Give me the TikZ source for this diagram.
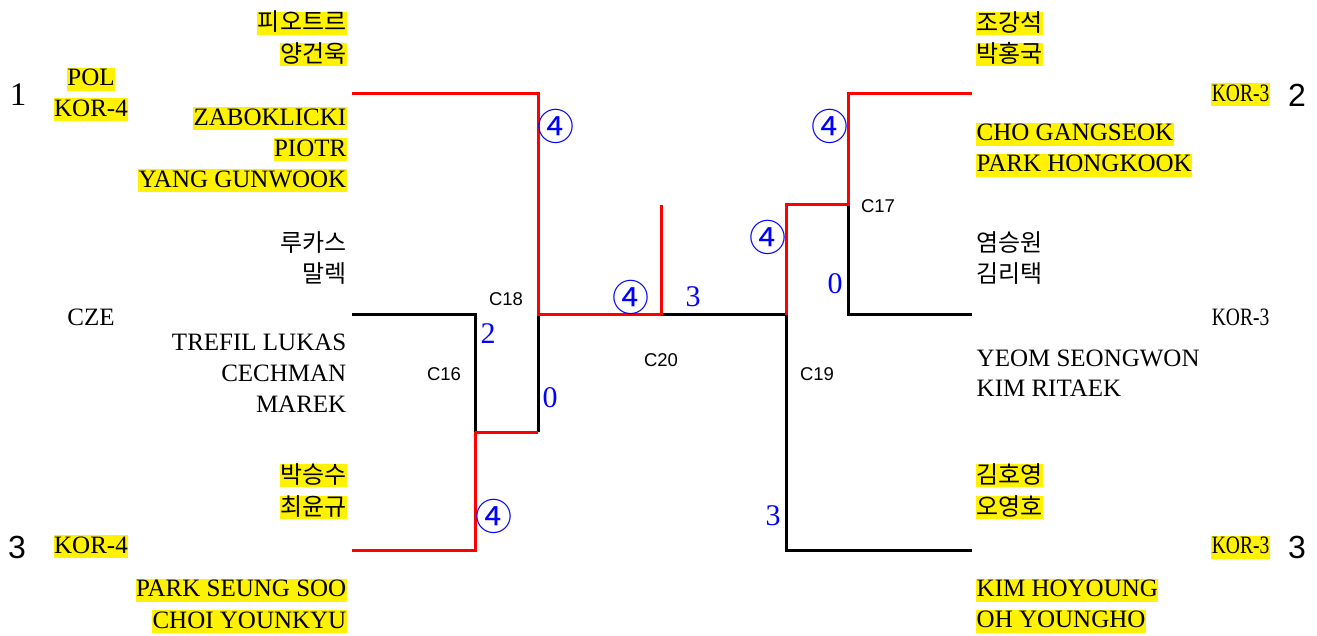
\documentclass[tikz,border=0pt]{standalone}
\usepackage{fontspec}
\usepackage{graphicx}
\setmainfont{Liberation Serif}
\newfontfamily\kr{Noto Sans CJK KR}
\newfontfamily\ssf{Liberation Sans}
\begin{document}
\begin{tikzpicture}[x=1pt,y=-1pt,
  lat/.style={inner xsep=0.5pt, inner ysep=0pt, text height=18pt, text depth=5pt, font=\fontsize{25}{30}\selectfont},
  hl/.style={lat, fill=yellow},
  kor/.style={inner xsep=0.5pt, inner ysep=0pt, text height=19pt, text depth=4pt, font=\kr\fontsize{24}{30}\selectfont},
  khl/.style={kor, fill=yellow},
  rankser/.style={inner sep=0pt, font=\fontsize{33}{36}\selectfont},
  ranksan/.style={inner sep=0pt, font=\ssf\fontsize{32}{36}\selectfont},
  score/.style={inner sep=0pt, text=blue, font=\fontsize{30}{36}\selectfont},
  win/.style={inner sep=0pt, text=blue, font=\kr\fontsize{37}{40}\selectfont},
  match/.style={inner sep=0pt, font=\ssf\fontsize{18.5}{22}\selectfont},
  wline/.style={red, line width=3pt},
  lline/.style={black, line width=3pt}
]
\useasboundingbox (0,0) rectangle (1317,636);

% bracket points
\coordinate (a1) at (352,94);
\coordinate (a2) at (538,94);
\coordinate (m18) at (538,315);
\coordinate (b1) at (352,315);
\coordinate (b2) at (475,315);
\coordinate (b3) at (475,432);
\coordinate (b4) at (538,432);
\coordinate (c1) at (352,550);
\coordinate (c2) at (475,550);
\coordinate (w) at (661,315);
\coordinate (wt) at (661,205);
\coordinate (m19) at (786,315);
\coordinate (d1) at (972,94);
\coordinate (d2) at (848,94);
\coordinate (d3) at (848,205);
\coordinate (d4) at (786,205);
\coordinate (e1) at (972,315);
\coordinate (e2) at (848,315);
\coordinate (f1) at (972,550);
\coordinate (f2) at (786,550);

% connectors
\draw[lline] (b1) -- (b2) -- (b3);
\draw[lline] (b4) -- (m18);
\draw[lline] (w) -- (m19);
\draw[lline] (e1) -- (e2) -- (d3);
\draw[lline] (f1) -- (f2) -- (m19);
\draw[wline] (a1) -- (a2) -- (m18) -- (w);
\draw[wline] (w) -- (wt);
\draw[wline] (b3) -- (b4);
\draw[wline] (c1) -- (c2) -- (b3);
\draw[wline] (d1) -- (d2) -- (d3) -- (d4) -- (m19);

% left side
\node[rankser] (r1) at (18,94.5) {1};
\node[hl] (pol) at (91,79.5) {POL};
\node[hl] (kor4a) at (91,110) {KOR-4};
\node[khl, anchor=east] (k1) at (347,23.5) {피오트르};
\node[khl, anchor=east] (k2) at (347,55) {양건욱};
\node[hl, anchor=east] (n1) at (347,119) {ZABOKLICKI};
\node[hl, anchor=east] (n2) at (347,150) {PIOTR};
\node[hl, anchor=east] (n3) at (347,181) {YANG GUNWOOK};

\node[kor, anchor=east] (k3) at (347,244) {루카스};
\node[kor, anchor=east] (k4) at (347,275) {말렉};
\node[lat] (cze) at (91,319.5) {CZE};
\node[lat, anchor=east] (n4) at (347,344) {TREFIL LUKAS};
\node[lat, anchor=east] (n5) at (347,375) {CECHMAN};
\node[lat, anchor=east] (n6) at (347,405.5) {MAREK};

\node[khl, anchor=east] (k5) at (347,475.5) {박승수};
\node[khl, anchor=east] (k6) at (347,507.5) {최윤규};
\node[ranksan] (r3a) at (17,547.5) {3};
\node[hl] (kor4b) at (91,546.5) {KOR-4};
\node[hl, anchor=east] (n7) at (347,590) {PARK SEUNG SOO};
\node[hl, anchor=east] (n8) at (347,621.5) {CHOI YOUNKYU};

% right side
\node[khl, anchor=west] (k7) at (976,24) {조강석};
\node[khl, anchor=west] (k8) at (976,55) {박홍국};
\node[hl, anchor=east] (kor3a) at (1270,95) {\scalebox{0.78}[1]{KOR-3}};
\node[ranksan] (r2) at (1297,95) {2};
\node[hl, anchor=west] (n9) at (976,134.5) {CHO GANGSEOK};
\node[hl, anchor=west] (n10) at (976,165.5) {PARK HONGKOOK};

\node[kor, anchor=west] (k9) at (976,244) {염승원};
\node[kor, anchor=west] (k10) at (976,275) {김리택};
\node[lat, anchor=east] (kor3b) at (1270,319.5) {\scalebox{0.78}[1]{KOR-3}};
\node[lat, anchor=west] (n11) at (976,359.5) {YEOM SEONGWON};
\node[lat, anchor=west] (n12) at (976,390) {KIM RITAEK};

\node[khl, anchor=west] (k11) at (976,475.5) {김호영};
\node[khl, anchor=west] (k12) at (976,507.5) {오영호};
\node[hl, anchor=east] (kor3c) at (1270,547) {\scalebox{0.78}[1]{KOR-3}};
\node[ranksan] (r3b) at (1297,547.5) {3};
\node[hl, anchor=west] (n13) at (976,590) {KIM HOYOUNG};
\node[hl, anchor=west] (n14) at (976,621) {OH YOUNGHO};

% scores
\node[win] (s1) at (556,126) {④};
\node[win] (s2) at (830,126) {④};
\node[win] (s3) at (631,297) {④};
\node[win] (s4) at (768,237) {④};
\node[win] (s5) at (494,516) {④};
\node[score] (s6) at (693,297) {3};
\node[score] (s7) at (488,334) {2};
\node[score] (s8) at (550,397.5) {0};
\node[score] (s9) at (835,283.5) {0};
\node[score] (s10) at (773,515.5) {3};

% match labels
\node[match] (c18) at (506,299.5) {C18};
\node[match] (c16) at (444,374) {C16};
\node[match] (c20) at (661,360) {C20};
\node[match] (c19) at (817,374) {C19};
\node[match] (c17) at (878,206) {C17};
\end{tikzpicture}
\end{document}
